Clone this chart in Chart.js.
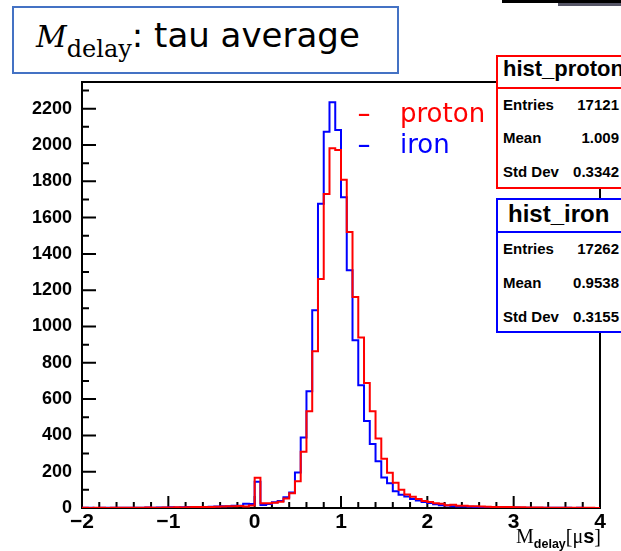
<!DOCTYPE html>
<html>
<head>
<meta charset="utf-8">
<script src="https://cdn.jsdelivr.net/npm/chart.js@4.4.1/dist/chart.umd.min.js"></script>
<style>
body { margin: 0; background: #fff; }
#wrap { position: relative; width: 621px; height: 551px; overflow: hidden; background: #fff; }
#wrap canvas { position: absolute; left: 0; top: 0; }
.abs { position: absolute; white-space: nowrap; line-height: 1; }
.box { position: absolute; background: #fff; box-sizing: border-box; }
.stat { font-family: "Liberation Sans", Arial, sans-serif; font-weight: bold; color: #000; }
.row { font-size: 15px; }
.val { text-align: right; right: 2px; }
.sep { position: absolute; height: 2px; }
</style>
</head>
<body>
<div id="wrap">
  <canvas id="myChart" width="621" height="551"></canvas>

  <!-- title box -->
  <div class="box" style="left:12px; top:6px; width:387px; height:68px; border:2px solid #4472c4;"></div>
  <div class="abs" style="left:36px; top:18px; font-family:'DejaVu Sans'; font-size:34px; color:#000;"><span style="font-family:'DejaVu Serif'; font-style:italic; font-size:30px;">M</span><span style="font-family:'DejaVu Serif'; font-size:24px; position:relative; top:10px;">delay</span>: tau average</div>

  <!-- legend -->
  <div class="abs" style="left:357px; top:100px; font-family:'DejaVu Sans'; font-size:26px; color:#ff0000; transform:scaleX(1.5); transform-origin:left;">-</div>
  <div class="abs" style="left:400px; top:100px; font-family:'DejaVu Sans'; font-size:26px; color:#ff0000;">proton</div>
  <div class="abs" style="left:357px; top:131px; font-family:'DejaVu Sans'; font-size:26px; color:#0000ff; transform:scaleX(1.5); transform-origin:left;">-</div>
  <div class="abs" style="left:400px; top:131px; font-family:'DejaVu Sans'; font-size:26px; color:#0000ff;">iron</div>

  <!-- top right bits -->
  <div class="box" style="left:502px; top:0px; width:119px; height:3px; background:#000;"></div>
  <div class="box" style="left:558px; top:3px; width:63px; height:3px; background:#556;"></div>

  <!-- stat box proton -->
  <div class="box" style="left:496px; top:55px; width:140px; height:134px; border:2px solid #ff0000;"></div>
  <div class="sep" style="left:496px; top:87px; width:130px; background:#ff0000;"></div>
  <div class="abs stat" style="left:503px; top:58px; font-size:22px;">hist_proton</div>
  <div class="abs stat row" style="left:503px; top:97px;">Entries</div>
  <div class="abs stat row val" style="top:97px;">17121</div>
  <div class="abs stat row" style="left:503px; top:130px;">Mean</div>
  <div class="abs stat row val" style="top:130px;">1.009</div>
  <div class="abs stat row" style="left:503px; top:164px;">Std Dev</div>
  <div class="abs stat row val" style="top:164px;">0.3342</div>

  <!-- stat box iron -->
  <div class="box" style="left:496px; top:198px; width:140px; height:135px; border:2px solid #0000ff;"></div>
  <div class="sep" style="left:496px; top:231px; width:130px; background:#0000ff;"></div>
  <div class="abs stat" style="left:508px; top:202px; font-size:24px;">hist_iron</div>
  <div class="abs stat row" style="left:503px; top:241px;">Entries</div>
  <div class="abs stat row val" style="top:241px;">17262</div>
  <div class="abs stat row" style="left:503px; top:275px;">Mean</div>
  <div class="abs stat row val" style="top:275px;">0.9538</div>
  <div class="abs stat row" style="left:503px; top:309px;">Std Dev</div>
  <div class="abs stat row val" style="top:309px;">0.3155</div>

  <!-- x axis title -->
  <div class="abs" style="right:20px; top:526px; font-family:'Liberation Serif'; font-size:20px; color:#000;">M<span style="font-family:'Liberation Sans'; font-weight:bold; font-size:12.5px; position:relative; top:5px;">delay</span>[μ<span style="font-family:'Liberation Sans'; font-weight:bold;">s</span>]</div>
</div>

<script>
// histogram binning: 90 bins from -2 to 4
const xMin = -2;
const xMax = 4;
const nBins = 90;

// counts per bin
const protonCounts = [
  1, 0, 2, 1, 0, 1, 2, 1, 1, 2,
  2, 3, 2, 2, 3, 3, 4, 3, 4, 5,
  5, 6, 6, 7, 8, 9, 10, 11, 8, 14,
  167, 26, 26, 29, 35, 53, 81, 148, 310, 533,
  863, 1262, 1730, 1982, 1973, 1808, 1520, 1162, 939, 689,
  533, 383, 272, 194, 139, 100, 75, 62, 50, 38,
  33, 26, 24, 15, 18, 12, 12, 10, 9, 8,
  7, 6, 6, 5, 5, 4, 4, 3, 3, 3,
  2, 2, 2, 2, 1, 1, 1, 1, 1, 0
];
const ironCounts = [
  1, 1, 0, 1, 1, 1, 1, 2, 1, 2,
  2, 3, 2, 3, 3, 4, 3, 4, 5, 5,
  6, 6, 7, 8, 9, 10, 12, 13, 24, 22,
  145, 16, 22, 31, 38, 59, 86, 196, 389, 643,
  1089, 1676, 2073, 2235, 2083, 1712, 1310, 924, 676, 480,
  352, 258, 168, 137, 92, 73, 64, 50, 42, 33,
  28, 20, 15, 14, 10, 8, 8, 7, 6, 6,
  5, 4, 4, 3, 3, 3, 2, 2, 2, 2,
  1, 1, 1, 1, 1, 0, 1, 0, 0, 0
];

const xTicks = [-2, -1, 0, 1, 2, 3, 4];
const yTicks = [0, 200, 400, 600, 800, 1000, 1200, 1400, 1600, 1800, 2000, 2200];
const yMax = 2347;

function histPoints(counts) {
  let w = (xMax - xMin) / nBins;
  let pts = [];
  for (let i = 0; i <= nBins; i++) {
    pts.push({ x: xMin + i * w, y: counts[Math.min(i, nBins - 1)] });
  }
  return pts;
}

// frame + inward ticks like ROOT
const frameTicks = {
  id: 'frameTicks',
  beforeDatasetsDraw(chart) {
    const { ctx, chartArea: a, scales } = chart;
    ctx.save();
    ctx.strokeStyle = '#000';
    ctx.lineWidth = 2;
    ctx.strokeRect(a.left, a.top, a.right - a.left, a.bottom - a.top);
    ctx.beginPath();
    for (let i = 0; i <= 30; i++) {
      let v = xMin + i * 0.2;
      let px = scales.x.getPixelForValue(v);
      let len = (i % 5 === 0) ? 12 : 6;
      ctx.moveTo(px, a.bottom);
      ctx.lineTo(px, a.bottom - len);
    }
    for (let v = 0; v <= yMax; v += 100) {
      let py = scales.y.getPixelForValue(v);
      let len = (v % 200 === 0) ? 14 : 7;
      ctx.moveTo(a.left, py);
      ctx.lineTo(a.left + len, py);
    }
    ctx.stroke();
    ctx.restore();
  }
};

const ctx = document.getElementById('myChart');

new Chart(ctx, {
  type: 'line',
  data: {
    datasets: [
      {
        label: 'proton',
        data: histPoints(protonCounts),
        borderColor: '#ff0000',
        borderWidth: 2,
        stepped: true,
        pointRadius: 0,
        fill: false
      },
      {
        label: 'iron',
        data: histPoints(ironCounts),
        borderColor: '#0000ff',
        borderWidth: 2,
        stepped: true,
        pointRadius: 0,
        fill: false
      }
    ]
  },
  options: {
    responsive: false,
    animation: false,
    devicePixelRatio: 1,
    layout: { padding: { left: 0, top: 82, right: 21, bottom: 0 } },
    plugins: {
      legend: { display: false },
      tooltip: { enabled: false }
    },
    scales: {
      x: {
        type: 'linear',
        min: xMin,
        max: xMax,
        afterBuildTicks: s => { s.ticks = xTicks.map(v => ({ value: v })); },
        afterFit: s => { s.height = 43; },
        grid: { display: false, drawTicks: false },
        border: { display: false },
        ticks: {
          color: '#000',
          padding: 2,
          maxRotation: 0,
          autoSkip: false,
          font: { family: 'Liberation Sans', weight: 'bold', size: 21 },
          callback: v => String(v).replace('-', '\u2212')
        }
      },
      y: {
        min: 0,
        max: yMax,
        afterBuildTicks: s => { s.ticks = yTicks.map(v => ({ value: v })); },
        afterFit: s => { s.width = 82; },
        grid: { display: false, drawTicks: false },
        border: { display: false },
        ticks: {
          color: '#000',
          padding: 10,
          font: { family: 'Liberation Sans', weight: 'bold', size: 18 },
          callback: v => String(v)
        }
      }
    }
  },
  plugins: [frameTicks]
});
</script>
</body>
</html>
